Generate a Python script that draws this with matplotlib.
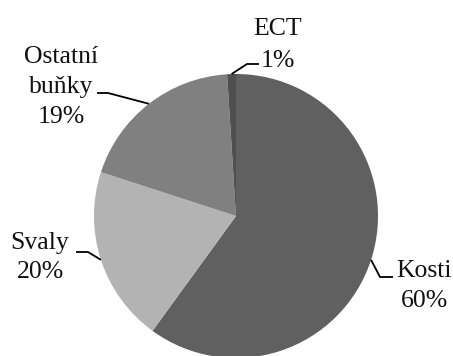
import numpy as np
import matplotlib
matplotlib.use("Agg")
import matplotlib.pyplot as plt

# Distribution of the body's share by tissue
categories = ["Kosti", "Svaly", "Ostatní\nbuňky", "ECT"]
shares = [60, 20, 19, 1]
colors = ["#606060", "#b3b3b3", "#808080", "#4f4f4f"]

W, H = 453, 356
CX, CY, R = 236, 216, 142          # pie centre and radius in pixels

fig = plt.figure(figsize=(W / 100, H / 100), dpi=100)
ax = fig.add_axes([0, 0, 1, 1])


def px(x, y):
    """Pixel position (from top-left) to data coordinates."""
    return (x - CX) / R, (CY - y) / R


wedges, _ = ax.pie(shares, colors=colors, startangle=90, counterclock=False,
                   radius=1, center=(0, 0), frame=True,
                   wedgeprops=dict(linewidth=0))
ax.set_xlim(-CX / R, (W - CX) / R)
ax.set_ylim(-(H - CY) / R, CY / R)
ax.axis("off")

font = dict(family="Liberation Serif", size=18.5, color="#111111")

# label layout: elbow point, end of leader, text centre x, baselines of lines
layout = {
    "Kosti": dict(elbow=(380, 277), end=(393, 277), tx=424, base=[277, 307]),
    "Svaly": dict(elbow=(88, 252), end=(76, 252), tx=40, base=[249, 278]),
    "Ostatní\nbuňky": dict(elbow=(108, 93), end=(97, 93), tx=61, base=[63, 93, 123]),
    "ECT": dict(elbow=(247, 64), end=(259, 64), tx=278, base=[35, 67]),
}

for w, name, val in zip(wedges, categories, shares):
    mid = np.deg2rad((w.theta1 + w.theta2) / 2)
    sx, sy = np.cos(mid), np.sin(mid)
    lay = layout[name]
    ex, ey = px(*lay["elbow"])
    nx, ny = px(*lay["end"])
    ax.plot([sx, ex, nx], [sy, ey, ny], color="black", lw=1.3,
            solid_capstyle="butt", solid_joinstyle="miter")
    lines = name.split("\n") + [f"{val}%"]
    for line, b in zip(lines, lay["base"]):
        tx, ty = px(lay["tx"], b)
        ax.text(tx, ty, line, ha="center", va="baseline", **font)

# descender of the heading above the chart
fig.text(412 / W, 1 + 10 / H, "g", ha="center", va="baseline",
         family="Liberation Serif", size=24, color="#111111")

fig.savefig("out.png", dpi=100, facecolor="white")
